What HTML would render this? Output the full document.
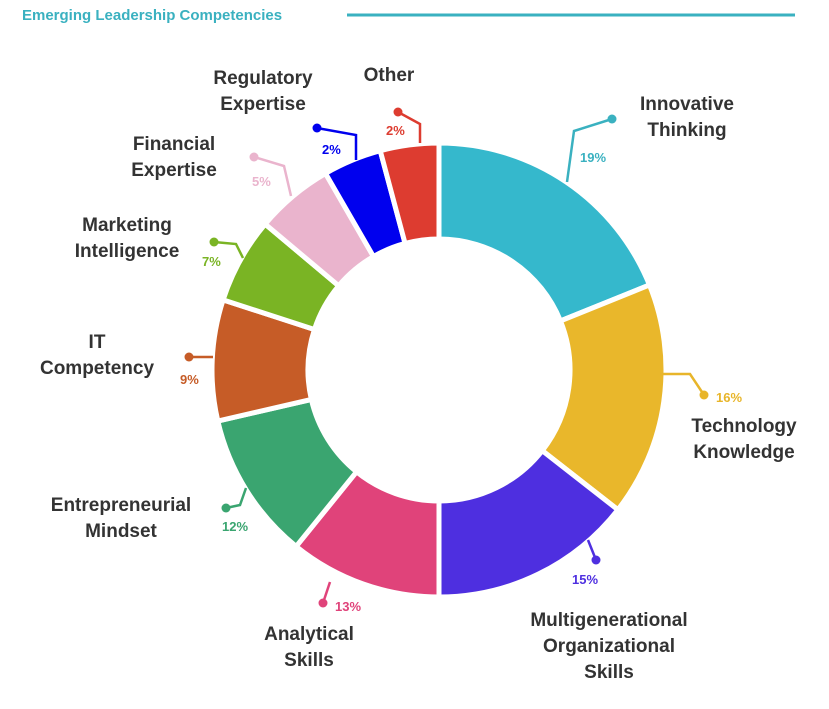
<!DOCTYPE html>
<html><head><meta charset="utf-8"><style>
body{margin:0;background:#fff;}
svg text{font-family:"Liberation Sans",sans-serif;font-weight:bold;}
</style></head><body>
<svg id="s" width="829" height="704" viewBox="0 0 829 704" xmlns="http://www.w3.org/2000/svg">
<text x="22" y="20" font-size="15" fill="#3ab1c0">Emerging Leadership Competencies</text>
<line x1="347" y1="15" x2="795" y2="15" stroke="#3ab1c0" stroke-width="3"/>
<g id="arcs"></g>
<g fill="none" stroke-width="2.5">
<polyline points="612,119 574,131 567,182" stroke="#3ab1c0"/>
<polyline points="660,374 690,374 704,395" stroke="#e8b52a"/>
<polyline points="588,540 596,560" stroke="#4e2fe0"/>
<polyline points="330,582 323,603" stroke="#e0437a"/>
<polyline points="246,488 240,505 226,508" stroke="#3aa570"/>
<polyline points="213,357 189,357" stroke="#c65c27"/>
<polyline points="214,242 236,244 243,258" stroke="#7ab424"/>
<polyline points="254,157 284,166 291,196" stroke="#eab4cd"/>
<polyline points="317,128 356,135 356,160" stroke="#0000ee"/>
<polyline points="398,112 420,124 420,143" stroke="#dd3c30"/>
</g>
<g>
<circle cx="612" cy="119" r="4.5" fill="#3ab1c0"/>
<circle cx="704" cy="395" r="4.5" fill="#e8b52a"/>
<circle cx="596" cy="560" r="4.5" fill="#4e2fe0"/>
<circle cx="323" cy="603" r="4.5" fill="#e0437a"/>
<circle cx="226" cy="508" r="4.5" fill="#3aa570"/>
<circle cx="189" cy="357" r="4.5" fill="#c65c27"/>
<circle cx="214" cy="242" r="4.5" fill="#7ab424"/>
<circle cx="254" cy="157" r="4.5" fill="#eab4cd"/>
<circle cx="317" cy="128" r="4.5" fill="#0000ee"/>
<circle cx="398" cy="112" r="4.5" fill="#dd3c30"/>
</g>
<g font-size="13">
<text x="580" y="162" fill="#3ab1c0">19%</text>
<text x="716" y="402" fill="#e8b52a">16%</text>
<text x="572" y="584" fill="#4e2fe0">15%</text>
<text x="335" y="611" fill="#e0437a">13%</text>
<text x="222" y="531" fill="#3aa570">12%</text>
<text x="180" y="384" fill="#c65c27">9%</text>
<text x="202" y="266" fill="#7ab424">7%</text>
<text x="252" y="186" fill="#eab4cd">5%</text>
<text x="322" y="154" fill="#0000ee">2%</text>
<text x="386" y="135" fill="#dd3c30">2%</text>
</g>
<g font-size="19" fill="#333" text-anchor="middle">
<text x="687" y="110">Innovative</text><text x="687" y="136">Thinking</text>
<text x="744" y="432">Technology</text><text x="744" y="458">Knowledge</text>
<text x="609" y="626">Multigenerational</text><text x="609" y="652">Organizational</text><text x="609" y="678">Skills</text>
<text x="309" y="640">Analytical</text><text x="309" y="666">Skills</text>
<text x="121" y="511">Entrepreneurial</text><text x="121" y="537">Mindset</text>
<text x="97" y="348">IT</text><text x="97" y="374">Competency</text>
<text x="127" y="231">Marketing</text><text x="127" y="257">Intelligence</text>
<text x="174" y="150">Financial</text><text x="174" y="176">Expertise</text>
<text x="263" y="84">Regulatory</text><text x="263" y="110">Expertise</text>
<text x="389" y="81">Other</text>
</g>
</svg>
<script>
var bounds=[0,68,128,180,219,257,288,310,330,345,360];
var cols=["#35b8cc","#e9b72b","#4e2fe0","#e0437a","#3aa570","#c65c27","#7ab424","#eab4cd","#0000ee","#dd3c30"];
var cx=439,cy=370,R=227,r=131,g=document.getElementById("arcs"),h="";
function p(rad,ang){return [cx+rad*Math.sin(ang),cy-rad*Math.cos(ang)];}
for(var i=0;i<cols.length;i++){
 var a0=bounds[i]*Math.PI/180,a1=bounds[i+1]*Math.PI/180;
 var large=(a1-a0)>Math.PI?1:0;
 var o0=p(R,a0),o1=p(R,a1),i1=p(r,a1),i0=p(r,a0);
 h+='<path d="M'+o0+' A'+R+','+R+' 0 '+large+' 1 '+o1+' L'+i1+' A'+r+','+r+' 0 '+large+' 0 '+i0+' Z" fill="'+cols[i]+'" stroke="#fff" stroke-width="5"/>';
}
g.innerHTML=h;
</script>
</body></html>
